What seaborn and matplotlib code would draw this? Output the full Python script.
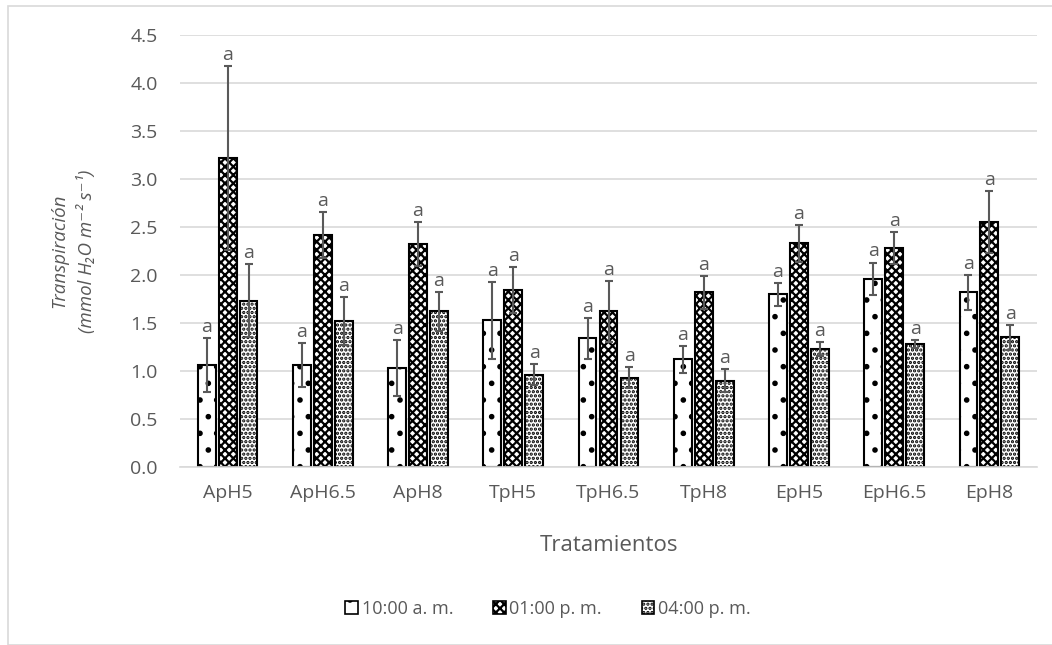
import numpy as np
import pandas as pd
import matplotlib
matplotlib.use("Agg")
import matplotlib.pyplot as plt
import seaborn as sns
from matplotlib.patches import Patch, Rectangle

treatments = ["ApH5", "ApH6.5", "ApH8", "TpH5", "TpH6.5", "TpH8", "EpH5", "EpH6.5", "EpH8"]
times = ["10:00 a. m.", "01:00 p. m.", "04:00 p. m."]
vals_10am = [1.06, 1.06, 1.03, 1.53, 1.34, 1.12, 1.80, 1.96, 1.82]
vals_01pm = [3.22, 2.42, 2.32, 1.84, 1.62, 1.82, 2.33, 2.28, 2.55]
vals_04pm = [1.73, 1.52, 1.62, 0.96, 0.93, 0.90, 1.23, 1.28, 1.35]
err_10am = [0.28, 0.23, 0.29, 0.40, 0.21, 0.14, 0.12, 0.17, 0.18]
err_01pm = [0.96, 0.24, 0.23, 0.24, 0.32, 0.17, 0.19, 0.17, 0.32]
err_04pm = [0.38, 0.25, 0.20, 0.11, 0.11, 0.12, 0.07, 0.04, 0.13]
letters = ["a"] * 27

values = [vals_10am, vals_01pm, vals_04pm]
errors = [err_10am, err_01pm, err_04pm]
df = pd.DataFrame({
    "Tratamientos": treatments * 3,
    "Hora": [t for t in times for _ in treatments],
    "valor": sum(values, []),
})

sns.set_theme(style="white")
plt.rcParams["font.family"] = ["Open Sans", "DejaVu Sans"]
plt.rcParams["hatch.linewidth"] = 1.6
GRAY = "#595959"

fig = plt.figure(figsize=(10.52, 6.45), dpi=100)
ax = fig.add_axes([180 / 1052, 1 - 467 / 645, (1037 - 180) / 1052, (467 - 35) / 645])

sns.barplot(data=df, x="Tratamientos", y="valor", hue="Hora", order=treatments,
            hue_order=times, palette=["white"] * 3, width=0.66, gap=0.15,
            errorbar=None, edgecolor="black", linewidth=1.5, legend=False, ax=ax)

hatches = [".", "xxxx", "...."]
bar_conts = list(ax.containers)
for ci, cont in enumerate(bar_conts):
    for bi, bar in enumerate(cont.patches):
        bar.set_hatch(hatches[ci])
        x = bar.get_x() + bar.get_width() / 2
        h = bar.get_height()
        e = errors[ci][bi]
        ax.errorbar(x, h, yerr=e, fmt="none", ecolor=GRAY, elinewidth=1.5,
                    capsize=3.2, capthick=1.5, zorder=5)
        ax.annotate(letters[ci * 9 + bi], (x, h + e), xytext=(0, 1.5),
                    textcoords="offset points", ha="center", va="bottom",
                    fontsize=14, color=GRAY)

ax.set_xlim(-0.5, len(treatments) - 0.5)
ax.set_ylim(0, 4.5)
ax.set_yticks(np.arange(0, 4.51, 0.5))
ax.set_yticklabels([f"{v:.1f}" for v in np.arange(0, 4.51, 0.5)])
ax.yaxis.grid(True, color="#d9d9d9", linewidth=1.2)
ax.set_axisbelow(True)
for s in ["top", "right", "left"]:
    ax.spines[s].set_visible(False)
ax.spines["bottom"].set_color("#d9d9d9")
ax.spines["bottom"].set_linewidth(1.2)
ax.tick_params(axis="both", length=0, labelsize=14, colors=GRAY)
ax.tick_params(axis="y", pad=16)
ax.tick_params(axis="x", pad=12)
ax.set_xlabel("Tratamientos", fontsize=16, color=GRAY, labelpad=24)
ax.set_ylabel("")
fig.text(73 / 1052, 1 - 251 / 645, "Transpiración\n(mmol H₂O m⁻² s⁻¹)", rotation=90,
         ha="center", va="center", multialignment="center", fontsize=13.5,
         color=GRAY, style="italic", linespacing=1.55)

handles = [Patch(facecolor="white", edgecolor="black", hatch=h, label=t, linewidth=1.2)
           for h, t in zip(hatches, times)]
leg = fig.legend(handles=handles, loc="center", bbox_to_anchor=(548 / 1052, 1 - 609 / 645),
                 ncol=3, frameon=False, fontsize=13, handlelength=0.7, handleheight=0.7,
                 handletextpad=0.2, columnspacing=2.2)
for t in leg.get_texts():
    t.set_color(GRAY)

fig.patches.append(Rectangle((8 / 1052, 0), 1.2, 1 - 6 / 645, transform=fig.transFigure,
                             fill=False, edgecolor="#d9d9d9", linewidth=1.2))

fig.savefig("out.png", dpi=100)
